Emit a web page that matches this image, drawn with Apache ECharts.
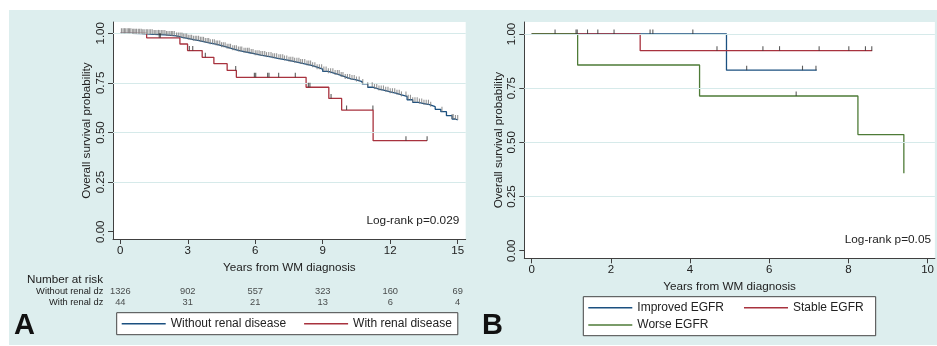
<!DOCTYPE html>
<html><head><meta charset="utf-8">
<script src="https://cdn.jsdelivr.net/npm/echarts@6/dist/echarts.min.js"></script>
<style>
html,body{margin:0;padding:0;background:#fff;}
#wrap{position:relative;width:937px;height:346px;}
#bg{position:absolute;left:9px;top:10px;width:928px;height:335px;background:#ddeeee;}
#chart{position:absolute;left:0;top:0;width:937px;height:346px;}
</style></head><body>
<div id="wrap"><div id="bg"></div><div id="chart"></div></div>
<script>
// ---- data ----
const xTicksA = [0, 3, 6, 9, 12, 15];
const xTicksB = [0, 2, 4, 6, 8, 10];
const yTicks = [0, 0.25, 0.5, 0.75, 1];
const yGrid = [0.25, 0.5, 0.75, 1];

const withoutRenal = [
  [0,1.000],[0.5,0.998],[1.0,0.995],[1.5,0.992],[2.0,0.987],[2.5,0.979],[2.75,0.974],
  [3.0,0.968],[3.25,0.963],[3.5,0.957],[3.75,0.951],[4.0,0.945],[4.25,0.938],[4.5,0.930],
  [4.75,0.922],[5.0,0.914],[5.25,0.908],[5.5,0.902],[5.75,0.896],[6.0,0.890],[6.25,0.885],
  [6.5,0.880],[6.75,0.874],[7.0,0.869],[7.25,0.863],[7.5,0.857],[7.75,0.851],[8.0,0.845],
  [8.25,0.838],[8.5,0.829],[8.75,0.819],[9.0,0.808],[9.25,0.799],[9.5,0.790],[9.75,0.780],
  [10.0,0.770],[10.25,0.765],[10.5,0.757],[10.75,0.745],[11.0,0.728],[11.25,0.719],
  [11.5,0.712],[11.75,0.705],[12.0,0.698],[12.25,0.690],[12.5,0.682],[12.75,0.665],
  [13.0,0.652],[13.25,0.646],[13.5,0.640],[13.75,0.630],[14.0,0.617],[14.25,0.605],
  [14.5,0.585],[14.75,0.568],[14.9,0.563],[15.0,0.563]
];
const withRenal = [
  [0,1],[1.17,0.977],[2.65,0.946],[2.99,0.913],[3.64,0.879],[4.16,0.847],[4.75,0.813],
  [5.16,0.778],[8.26,0.728],[9.27,0.672],[9.84,0.613],[11.24,0.459],[13.64,0.459]
];
const withoutRenalCensor = [
  0.05,0.12,0.18,0.22,0.3,0.36,0.41,0.47,0.55,0.6,0.66,0.72,0.8,0.86,0.93,1.0,1.06,1.15,
  1.2,1.28,1.35,1.42,1.5,1.55,1.63,1.7,1.76,1.84,1.9,1.98,2.05,2.12,2.2,2.27,2.33,2.4,2.5,
  2.58,2.66,2.74,2.8,2.88,2.95,3.02,3.1,3.17,3.25,3.33,3.4,3.48,3.56,3.63,3.7,3.78,3.86,
  3.93,4.0,4.1,4.18,4.26,4.33,4.42,4.5,4.58,4.66,4.75,4.83,4.9,5.0,5.08,5.16,5.25,5.33,
  5.4,5.5,5.58,5.66,5.73,5.82,5.9,6.0,6.08,6.17,6.25,6.33,6.42,6.5,6.6,6.7,6.78,6.86,6.95,
  7.05,7.13,7.22,7.3,7.4,7.5,7.58,7.67,7.75,7.85,7.94,8.02,8.1,8.2,8.3,8.38,8.46,8.55,8.65,
  8.75,8.85,8.95,9.05,9.15,9.25,9.35,9.45,9.55,9.65,9.73,9.82,9.9,10.0,10.1,10.2,10.3,10.4,
  10.5,10.62,10.78,11.0,11.2,11.3,11.4,11.5,11.6,11.7,11.8,11.9,12.0,12.1,12.2,12.3,12.4,
  12.5,12.7,12.8,12.9,13.0,13.1,13.2,13.3,13.4,13.5,13.6,13.7,13.8,14.3,14.75,14.8,14.9,15.0
];
const withRenalCensor = [1.73,1.78,3.07,3.22,3.78,5.13,5.96,6.02,6.55,6.61,7.04,7.78,8.36,8.43,9.37,10.06,11.23,12.70,13.64];

const riskRows = ['Without renal dz', 'With renal dz'];
const riskWithout = [1326, 902, 557, 323, 160, 69];
const riskWith = [44, 31, 21, 13, 6, 4];

const improved = [[0,1],[4.92,0.833],[7.20,0.833]];
const stable = [[0,1],[2.74,0.923],[8.60,0.923]];
const worse = [[0,1],[1.16,0.857],[4.24,0.714],[8.24,0.536],[9.40,0.357]];
const improvedCensor = [2.99,3.06,4.07,5.43,6.84,7.18];
const stableCensor = [1.15,1.41,1.67,2.08,4.68,5.84,6.26,7.26,8.01,8.43,8.59];
const worseCensor = [0.59,1.12,6.68];

// ---- styles ----
const FONT = "'Liberation Sans', Arial, Helvetica, sans-serif";
const TXT = '#222';
const AX = '#404040';
const BLUE = '#1b5080', RED = '#a8323e', GREEN = '#4e7b37';
const GRIDC = '#d6eaea';

function survAt(curve, t) {
  let v = curve[0][1];
  for (const p of curve) { if (p[0] <= t) v = p[1]; }
  return v;
}
const tickSym = 'path://M0,0L1,0L1,4L0,4Z';
function censorSeries(curve, times, xi, color, h) {
  return {
    type: 'scatter', xAxisIndex: xi, yAxisIndex: xi, silent: true, z: 5,
    symbol: tickSym, symbolSize: [1.1, h], symbolOffset: [0, -h / 2],
    itemStyle: { color: color },
    data: times.map(t => [t, survAt(curve, t)])
  };
}
function kmSeries(name, curve, xi, color) {
  return {
    name: name, type: 'line', step: 'end', xAxisIndex: xi, yAxisIndex: xi,
    symbol: 'none', silent: true, z: 3,
    lineStyle: { color: color, width: 1.3 }, itemStyle: { color: color },
    data: curve
  };
}
function gridLines(xi) {
  return {
    type: 'line', xAxisIndex: xi, yAxisIndex: xi, data: [], silent: true, z: 1,
    markLine: {
      silent: true, symbol: ['none', 'none'], label: { show: false },
      lineStyle: { color: GRIDC, width: 1.2, type: 'solid' },
      animation: false,
      data: yGrid.map(v => ({ yAxis: v }))
    }
  };
}
function xAxisCfg(gi, min, max, ticks, gap) {
  return {
    type: 'value', gridIndex: gi, min: min, max: max,
    name: 'Years from WM diagnosis', nameLocation: 'middle', nameGap: gap,
    nameTextStyle: { fontSize: 11.7, color: TXT, fontFamily: FONT },
    axisLine: { show: true, onZero: false, lineStyle: { color: AX, width: 1 } },
    axisTick: { show: true, customValues: ticks, length: 5, lineStyle: { color: AX } },
    axisLabel: { customValues: ticks, margin: 6, fontSize: 11.5, color: TXT, fontFamily: FONT },
    splitLine: { show: false }
  };
}
function yAxisCfg(gi, min, max) {
  return {
    type: 'value', gridIndex: gi, min: min, max: max,
    name: 'Overall survival probability', nameLocation: 'middle', nameGap: 20, nameRotate: 90,
    nameTextStyle: { fontSize: 11.7, color: TXT, fontFamily: FONT },
    axisLine: { show: true, onZero: false, lineStyle: { color: AX, width: 1 } },
    axisTick: { show: true, customValues: yTicks, length: 5, lineStyle: { color: AX } },
    axisLabel: { customValues: yTicks, rotate: 90, margin: 6, fontSize: 11.5, color: TXT, fontFamily: FONT,
      formatter: v => Number(v).toFixed(2) },
    splitLine: { show: false }
  };
}

const riskData = [];
xTicksA.forEach((x, i) => {
  riskData.push([x, riskRows[0], riskWithout[i]]);
  riskData.push([x, riskRows[1], riskWith[i]]);
});

const legendCommon = {
  orient: 'horizontal', icon: 'rect', itemWidth: 44, itemHeight: 1.4, selectedMode: false,
  textStyle: { fontSize: 12, color: TXT, fontFamily: FONT, lineHeight: 14 }
};

const chart = echarts.init(document.getElementById('chart'), null, { renderer: 'canvas' });
chart.setOption({
  backgroundColor: 'transparent',
  animation: false,
  textStyle: { fontFamily: FONT },
  title: [
    { text: 'Number at risk', left: 27, top: 273.5, padding: 0,
      textStyle: { fontSize: 11.7, fontWeight: 'normal', color: TXT, fontFamily: FONT } },
    { text: 'Log-rank p=0.029', right: 477.7, top: 214.7, padding: 0,
      textStyle: { fontSize: 11.8, fontWeight: 'normal', color: TXT, fontFamily: FONT } },
    { text: 'Log-rank p=0.05', right: 6, top: 233.7, padding: 0,
      textStyle: { fontSize: 11.8, fontWeight: 'normal', color: TXT, fontFamily: FONT } },
    { text: 'A', left: 14, top: 311, padding: 0,
      textStyle: { fontSize: 29, fontWeight: 'bold', color: '#111', fontFamily: FONT } },
    { text: 'B', left: 482, top: 311, padding: 0,
      textStyle: { fontSize: 29, fontWeight: 'bold', color: '#111', fontFamily: FONT } }
  ],
  legend: [
    Object.assign({}, legendCommon, {
      data: ['Without renal disease', 'With renal disease'], left: 116.7, top: 312.7, itemGap: 18,
      backgroundColor: '#fff', borderColor: '#444', borderWidth: 1, padding: [4, 6, 4, 5] }),
    Object.assign({}, legendCommon, {
      data: ['Improved EGFR', 'Stable EGFR'], left: 583.3, top: 296.7, itemGap: 20,
      backgroundColor: '#fff', borderColor: '#444', borderWidth: 1, padding: [4, 12, 21, 5] }),
    Object.assign({}, legendCommon, {
      data: ['Worse EGFR'], left: 588.3, top: 318, padding: 0 })
  ],
  grid: [
    { left: 113, top: 22, width: 352.7, height: 217, show: true, backgroundColor: '#fff', borderWidth: 0 },
    { left: 524.3, top: 22, width: 410.7, height: 236.3, show: true, backgroundColor: '#fff', borderWidth: 0 },
    { left: 113, top: 286, width: 352.7, height: 22, show: false }
  ],
  xAxis: [
    xAxisCfg(0, -0.325, 15.356, xTicksA, 18),
    xAxisCfg(1, -0.187, 10.184, xTicksB, 17),
    { type: 'value', gridIndex: 2, min: -0.325, max: 15.356, show: false }
  ],
  yAxis: [
    yAxisCfg(0, -0.0368, 1.057),
    yAxisCfg(1, -0.0351, 1.0554),
    { type: 'category', gridIndex: 2, data: riskRows, inverse: true,
      axisLine: { show: false }, axisTick: { show: false }, splitLine: { show: false },
      axisLabel: { interval: 0, margin: 9.7, fontSize: 9.3, color: TXT, fontFamily: FONT } }
  ],
  series: [
    gridLines(0),
    kmSeries('Without renal disease', withoutRenal, 0, BLUE),
    kmSeries('With renal disease', withRenal, 0, RED),
    censorSeries(withoutRenal, withoutRenalCensor, 0, '#7a7a7a', 5),
    censorSeries(withRenal, withRenalCensor, 0, '#333', 4.5),
    gridLines(1),
    kmSeries('Improved EGFR', improved, 1, BLUE),
    kmSeries('Stable EGFR', stable, 1, RED),
    kmSeries('Worse EGFR', worse, 1, GREEN),
    censorSeries(improved, improvedCensor, 1, '#333', 4.5),
    censorSeries(stable, stableCensor, 1, '#333', 4.5),
    censorSeries(worse, worseCensor, 1, '#333', 4.5),
    { type: 'scatter', xAxisIndex: 2, yAxisIndex: 2, silent: true, symbolSize: 1,
      itemStyle: { color: 'transparent' },
      label: { show: true, position: 'inside', formatter: p => String(p.value[2]),
        fontSize: 9.3, color: TXT, fontFamily: FONT },
      data: riskData }
  ]
});
</script>
</body></html>
